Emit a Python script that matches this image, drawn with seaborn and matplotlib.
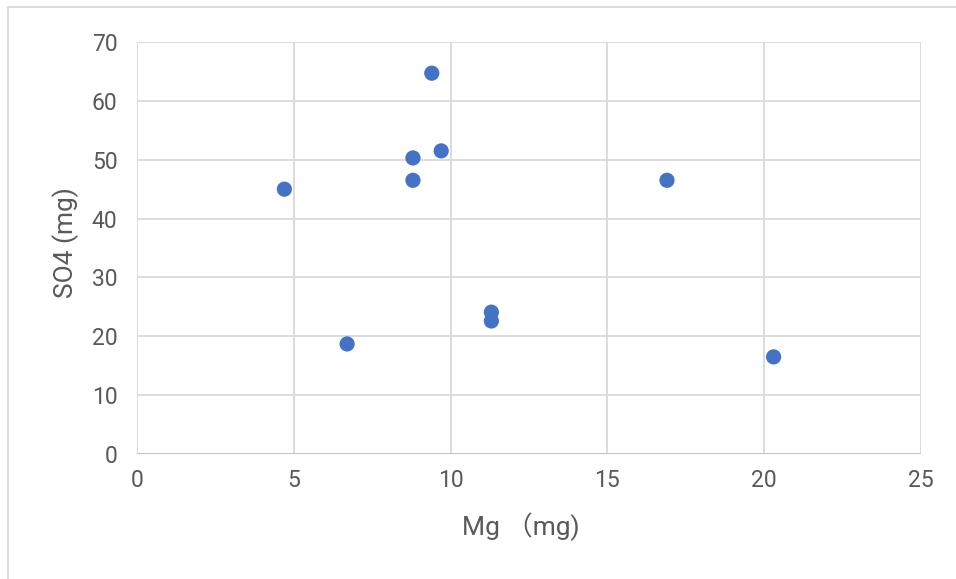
import matplotlib
matplotlib.use("Agg")
import matplotlib.pyplot as plt
import seaborn as sns
import pandas as pd
from matplotlib.lines import Line2D

mg = [4.7, 6.7, 8.8, 8.8, 9.4, 9.7, 11.3, 11.3, 16.9, 20.3]
so4 = [45.0, 18.7, 50.3, 46.5, 64.7, 51.5, 24.1, 22.6, 46.5, 16.5]
x_ticks = [0, 5, 10, 15, 20, 25]
y_ticks = [0, 10, 20, 30, 40, 50, 60, 70]
x_label = "Mg （mg)"
y_label = "SO4 (mg)"

sns.set_theme(style="white")
plt.rcParams['font.family'] = ['Roboto', 'Noto Sans CJK SC', 'DejaVu Sans']

df = pd.DataFrame({"Mg": mg, "SO4": so4})

fig = plt.figure(figsize=(9.56, 5.79), dpi=100)
ax = fig.add_axes([137/956, 1-454/579, (921-137)/956, (454-42)/579])

grid_c = "#d9d9d9"
txt_c = "#595959"
sns.scatterplot(data=df, x="Mg", y="SO4", ax=ax, color="#4472C4", s=120,
                edgecolor="none", zorder=3, clip_on=False)

ax.set_xlim(0, 25)
ax.set_ylim(0, 70)
ax.set_xticks(x_ticks)
ax.set_yticks(y_ticks)
ax.grid(True, color=grid_c, linewidth=1.3, zorder=0)
ax.set_axisbelow(True)
for s in ax.spines.values():
    s.set_visible(False)
ax.axhline(0, color="#bfbfbf", linewidth=1.3, zorder=1)

ax.tick_params(axis="both", length=0, labelsize=16.5, labelcolor=txt_c)
ax.tick_params(axis="x", pad=11)
ax.tick_params(axis="y", pad=14)

ax.set_xlabel(x_label, fontsize=19, color=txt_c)
ax.set_ylabel(y_label, fontsize=19, color=txt_c)
ax.xaxis.label.set_va('center')
ax.yaxis.label.set_va('center')
ax.xaxis.set_label_coords((521-137)/784, (454-527)/412)
ax.yaxis.set_label_coords((66-137)/784, (454-243)/412)

# outer chart border
fig.add_artist(Line2D([8/956, 1], [1-7/579, 1-7/579], transform=fig.transFigure,
                      color=grid_c, linewidth=1.3))
fig.add_artist(Line2D([8/956, 8/956], [0, 1-7/579], transform=fig.transFigure,
                      color=grid_c, linewidth=1.3))

fig.savefig("out.png", dpi=100)
